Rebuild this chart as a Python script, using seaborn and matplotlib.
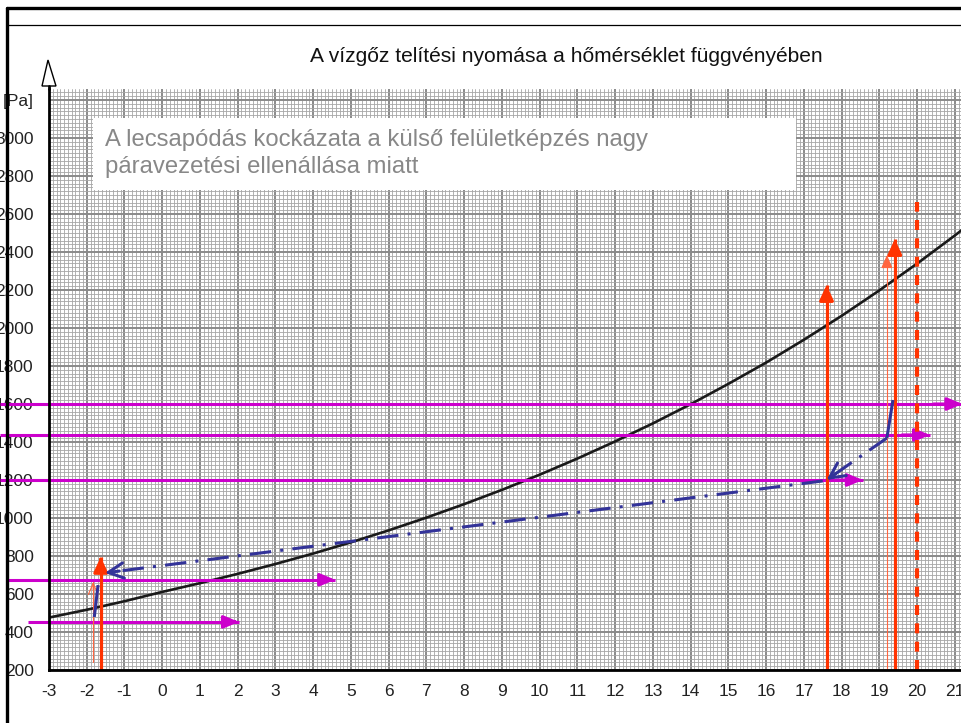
import numpy as np
import matplotlib
matplotlib.use("Agg")
import matplotlib.pyplot as plt
import seaborn as sns
from matplotlib.patches import Polygon, Rectangle
from matplotlib.lines import Line2D

# ---------------- data ----------------
temps = [-3, -2, -1, 0, 1, 2, 3, 4, 5, 6, 7, 8, 9, 10, 11, 12, 13, 14, 15,
         16, 17, 18, 19, 20, 21, 21.2]
psat = [476, 517, 562, 611, 657, 706, 758, 813, 872, 935, 1002, 1073, 1148,
        1228, 1313, 1403, 1498, 1599, 1706, 1818, 1938, 2064, 2198, 2339,
        2487, 2518]

title = "A vízgőz telítési nyomása a hőmérséklet függvényében"
note = "A lecsapódás kockázata a külső felületképzés nagy\npáravezetési ellenállása miatt"

x_ticks = list(range(-3, 22))
y_ticks = list(range(200, 3201, 200))
y_labels = [str(v) for v in y_ticks[:-1]] + ["[Pa]"]

# magenta horizontal arrows
h_level = [1600, 1437, 1200, 675, 453]
h_from = [-4.3, -4.3, -4.3, -4.1, -3.55]
h_to = [21.2, 20.34, 18.56, 4.58, 2.03]

# thick orange vertical arrows (from the axis bottom)
v_x = [17.6, 19.41, -1.63]
v_top = [2226, 2468, 795]
# thin orange vertical arrows
vt_x = [19.2, -1.83]
vt_bottom = [200, 242]
vt_top = [2384, 663]
# dashed orange line
vd_x = [20.0]
vd_top = [2663]

# blue dash-dot arrows
bd1_x = [19.2, 17.6]
bd1_y = [1421, 1200]
bd2_x = [17.5, -1.52]
bd2_y = [1195, 711]
# blue solid short segments
bs1_x = [19.36, 19.2]
bs1_y = [1621, 1421]
bs2_x = [-1.7, -1.8]
bs2_y = [647, 479]

XMIN, XMAX = -3, 21.19
YMIN, YMAX = 200, 3258

MAGENTA = "#cc00cc"
ORANGE = "#ff3300"
BLUE = "#333399"

# ---------------- style ----------------
sns.set_style("white")
plt.rcParams["font.family"] = ["Liberation Sans", "DejaVu Sans"]
plt.rcParams["axes.unicode_minus"] = False

W, H = 962, 723
fig = plt.figure(figsize=(W / 100, H / 100), dpi=100)
ax = fig.add_axes([49 / W, (H - 670) / H, (W - 49) / W, (670 - 89) / H])

# millimetre-paper grid
ax.set_xticks(np.arange(-3, 21.25, 0.1), minor=True)
ax.set_yticks(np.arange(200, 3260, 20), minor=True)
ax.set_xticks(x_ticks)
ax.set_xticklabels([str(v) for v in x_ticks])
ax.set_yticks(y_ticks)
ax.set_yticklabels(y_labels)
ax.grid(which="minor", color="#a6a6a6", lw=0.6, zorder=0)
ax.grid(which="major", color="#8a8a8a", lw=1.4, zorder=0)
ax.set_axisbelow(True)
ax.tick_params(which="minor", length=0)
ax.tick_params(which="major", length=7, width=1.2, color="#8a8a8a",
               labelsize=12.5, labelcolor="#222222")
ax.tick_params(axis="y", pad=4)
ax.tick_params(axis="x", pad=3)

ax.set_xlim(XMIN, XMAX)
ax.set_ylim(YMIN, YMAX)
for s in ["top", "right"]:
    ax.spines[s].set_visible(False)
for s in ["left", "bottom"]:
    ax.spines[s].set_color("black")
    ax.spines[s].set_linewidth(2)
    ax.spines[s].set_linestyle((0, (1, 1)))
    ax.spines[s].set_zorder(6)

# saturation curve
sns.lineplot(x=temps, y=psat, ax=ax, color="#1a1a1a", lw=1.9, zorder=4)


def head(x0, y0, x1, y1, color, lw, style, hl, hw, frac=0.02):
    ax.annotate("", xy=(x1, y1),
                xytext=(x1 + (x0 - x1) * frac, y1 + (y0 - y1) * frac),
                arrowprops=dict(arrowstyle=f"{style},head_length={hl},head_width={hw}",
                                color=color, lw=lw, shrinkA=0, shrinkB=0,
                                mutation_scale=10),
                annotation_clip=False, zorder=5)


# magenta horizontals
for lev, a, b in zip(h_level, h_from, h_to):
    ax.plot([a, b], [lev, lev], color=MAGENTA, lw=2.2, clip_on=False, zorder=5,
            solid_capstyle="butt")
    head(a, lev, b, lev, MAGENTA, 2.2, "-|>", 0.9, 0.38, frac=0.03)

# orange thick verticals
for x, top in zip(v_x, v_top):
    ax.plot([x, x], [YMIN, top], color=ORANGE, lw=2.3, zorder=5,
            solid_capstyle="butt")
    head(x, YMIN, x, top, ORANGE, 2.3, "-|>", 0.9, 0.42, frac=0.03)

# orange thin verticals
for x, b, top in zip(vt_x, vt_bottom, vt_top):
    ax.plot([x, x], [b, top], color="#ff6640", lw=0.8, zorder=5)
for x, b, top in zip(vt_x[:1], vt_bottom[:1], vt_top[:1]):
    head(x, b, x, top, "#ff6640", 0.8, "-|>", 0.8, 0.35, frac=0.03)
for x, b, top in zip(vt_x[1:], vt_bottom[1:], vt_top[1:]):
    head(x, b, x, top, "#ff6640", 0.8, "->", 0.8, 0.35, frac=0.1)

# orange dashed
for x, top in zip(vd_x, vd_top):
    ax.plot([x, x], [YMIN, top], color=ORANGE, lw=3, ls=(0, (2.4, 2)), zorder=5)

# blue dash-dot with open heads
for xs, ys in [(bd1_x, bd1_y), (bd2_x, bd2_y)]:
    ax.plot(xs, ys, color=BLUE, lw=2.2, ls=(0, (7, 3, 1, 3)), zorder=5,
            dash_capstyle="butt")
    head(xs[0], ys[0], xs[1], ys[1], BLUE, 2.2, "->", 1.1, 0.55,
         frac=0.02 if xs[0] - xs[1] > 5 else 0.15)
for xs, ys in [(bs1_x, bs1_y), (bs2_x, bs2_y)]:
    ax.plot(xs, ys, color=BLUE, lw=2.2, zorder=5, solid_capstyle="butt")

# y axis arrow (open triangle)
tri = Polygon([(-7 / 913, 1 + 3 / 581), (7 / 913, 1 + 3 / 581), (-1 / 913, 1 + 29 / 581)],
              closed=True, facecolor="white", edgecolor="black", lw=1.0,
              transform=ax.transAxes, clip_on=False, zorder=7)
ax.add_patch(tri)
ax.plot([0, 0], [1, 1 + 3 / 581], color="black", lw=2, transform=ax.transAxes,
        clip_on=False, zorder=7)

# note box
fig.patches.append(Rectangle((93 / W, 1 - 190 / H), (796 - 93) / W, (190 - 118) / H,
                             transform=fig.transFigure, facecolor="white",
                             edgecolor="none", zorder=8))
fig.text(105 / W, 1 - 129 / H, note, fontsize=17.2, color="#888888", va="top",
         ha="left", linespacing=1.3, zorder=9)

# title
fig.text(566 / W, 1 - 57 / H, title, fontsize=15.1, color="#111111", ha="center",
         va="center")

# page frame lines
fig.add_artist(Line2D([7 / W, 7 / W], [0, 1 - 8 / H], color="black", lw=2.4,
                      transform=fig.transFigure))
fig.add_artist(Line2D([7 / W, 1], [1 - 8 / H, 1 - 8 / H], color="black", lw=2.4,
                      transform=fig.transFigure))
fig.add_artist(Line2D([7 / W, 1], [1 - 25 / H, 1 - 25 / H], color="black", lw=0.9,
                      transform=fig.transFigure))

fig.savefig("out.png", dpi=100)
